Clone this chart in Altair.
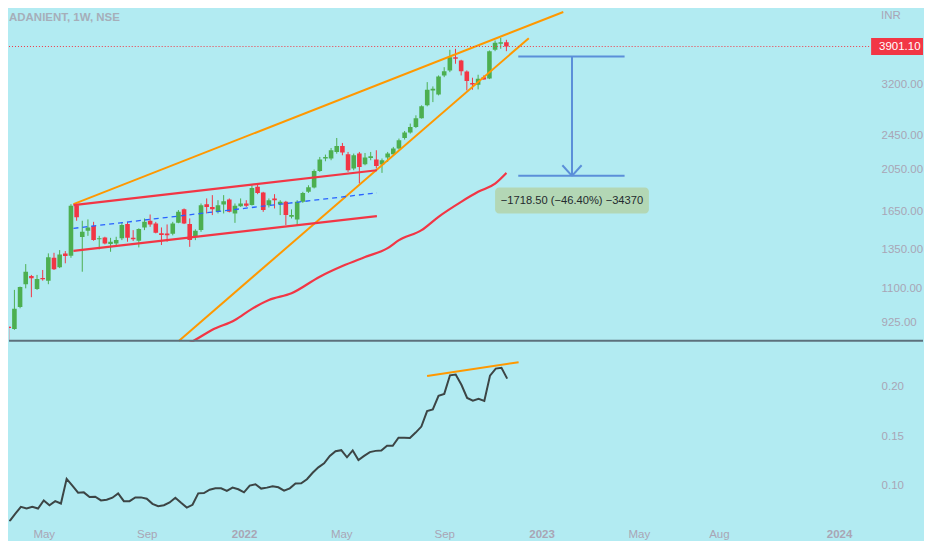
import altair as alt
import pandas as pd

FONT = "Liberation Sans"
BG = "#b2ebf2"
UP = "#4caf50"
DOWN = "#f23645"
ORANGE = "#ff9800"
BLUE = "#2962ff"
MEAS = "#5b8fd9"
AXC = "#a9a5b5"
SEP = "#5c707c"

# ---------------- weekly candles (bar index 0 = week of 15 Mar 2021) ----------------
week = list(range(89))
open_ = [903, 892, 1001, 1127, 1176, 1099, 1164, 1148, 1294, 1231,
         1324, 1308, 1703, 1442, 1490, 1527, 1425, 1439, 1390, 1395,
         1432, 1543, 1436, 1414, 1516, 1570, 1548, 1470, 1468, 1466,
         1553, 1668, 1543, 1444, 1495, 1712, 1688, 1645, 1710, 1754,
         1631, 1694, 1718, 1705, 1874, 1820, 1703, 1764, 1712, 1733,
         1603, 1581, 1733, 1826, 1868, 2037, 2173, 2173, 2249, 2320,
         2222, 2062, 2230, 2109, 2180, 2162, 2106, 2184, 2222, 2290,
         2419, 2488, 2562, 2681, 2869, 3102, 3038, 3354, 3442, 3690,
         3627, 3425, 3222, 3195, 3324, 3300, 3835, 3956, 3989]
high = [905, 1094, 1113, 1252, 1183, 1183, 1214, 1324, 1328, 1347,
        1340, 1712, 1705, 1570, 1581, 1561, 1451, 1444, 1436, 1444,
        1557, 1561, 1495, 1509, 1589, 1622, 1561, 1516, 1540, 1561,
        1660, 1674, 1589, 1501, 1718, 1764, 1795, 1748, 1795, 1764,
        1718, 1764, 1748, 1890, 1897, 1826, 1764, 1804, 1748, 1742,
        1666, 1748, 1826, 1890, 2052, 2191, 2218, 2296, 2419, 2357,
        2249, 2230, 2249, 2237, 2249, 2269, 2173, 2249, 2309, 2412,
        2509, 2608, 2723, 2869, 3239, 3167, 3354, 3502, 3835, 3855,
        3640, 3443, 3314, 3366, 3354, 3821, 4025, 4082, 4040]
low = [843, 888, 994, 1103, 1053, 1094, 1148, 1127, 1214, 1226,
       1257, 1294, 1570, 1203, 1451, 1414, 1352, 1388, 1335, 1383,
       1419, 1407, 1412, 1366, 1495, 1521, 1470, 1383, 1407, 1455,
       1550, 1543, 1370, 1419, 1482, 1631, 1617, 1631, 1631, 1640,
       1553, 1688, 1688, 1700, 1804, 1645, 1683, 1674, 1617, 1535,
       1589, 1535, 1724, 1816, 1859, 2026, 2142, 2154, 2229, 2210,
       2026, 2044, 1907, 2098, 2154, 2062, 2016, 2135, 2210, 2277,
       2399, 2475, 2548, 2677, 2854, 2918, 3022, 3324, 3412, 3565,
       3354, 3102, 3113, 3118, 3280, 3290, 3807, 3855, 3807]
close = [897, 991, 1111, 1203, 1162, 1158, 1156, 1297, 1218, 1317,
         1306, 1697, 1598, 1482, 1516, 1419, 1432, 1395, 1407, 1419,
         1535, 1436, 1425, 1503, 1561, 1540, 1474, 1457, 1455, 1548,
         1645, 1548, 1419, 1490, 1703, 1688, 1668, 1703, 1739, 1645,
         1697, 1718, 1697, 1864, 1816, 1660, 1748, 1748, 1733, 1617,
         1617, 1733, 1816, 1871, 2037, 2162, 2191, 2269, 2320, 2242,
         2044, 2210, 2080, 2184, 2199, 2091, 2154, 2230, 2290, 2390,
         2488, 2562, 2681, 2854, 3113, 3130, 3336, 3430, 3690, 3659,
         3430, 3256, 3200, 3297, 3285, 3807, 3976, 3989, 3901.10]
last_price = [3901.10]

# moving average (red curve)
ma_week = [31, 33, 36, 40, 43, 46, 50, 55, 59, 63, 67, 69, 73, 76, 80, 83, 86, 88]
ma_val = [817, 843, 888, 935, 991, 1038, 1075, 1172, 1239, 1299, 1361, 1419,
          1495, 1603, 1733, 1826, 1907, 2016]

# drawn trend lines
trend_kind = ["wedge", "wedge", "channel", "channel", "mid"]
trend_w1 = [11.44, 30.07, 11.44, 11.44, 11.44]
trend_p1 = [1712, 838, 1703, 1342, 1509]
trend_w2 = [98.06, 91.96, 65.10, 65.10, 65.10]
trend_p2 = [4672, 4074, 2044, 1608, 1816]

# price-range measurement tool
meas_w1 = [90.1, 90.1, 99.6, 97.9, 101.3]
meas_p1 = [3703.7, 1985.2, 3703.7, 2098, 2098]
meas_w2 = [108.9, 108.9, 99.6, 99.6, 99.6]
meas_p2 = [3703.7, 1985.2, 1985.2, 1985.2, 1985.2]
box_w = [86.0, 113.2]
box_p = [1868, 1631]
box_text_w = [99.6]
box_text_p = [1745]
box_text = ["\u22121718.50 (\u221246.40%) \u221234370"]

# lower indicator pane
ind_week = list(range(1, 89))
ind_val = [0.0637, 0.0713, 0.0784, 0.0767, 0.0784, 0.0767, 0.0849, 0.0801, 0.0842, 0.0818,
           0.1068, 0.0999, 0.0928, 0.0931, 0.0883, 0.0887, 0.0849, 0.0856, 0.0877, 0.0921,
           0.0842, 0.0842, 0.0880, 0.0880, 0.0866, 0.0815, 0.0791, 0.0801, 0.0829, 0.0877,
           0.0825, 0.0777, 0.0805, 0.0921, 0.0924, 0.0958, 0.0972, 0.0972, 0.0945, 0.0979,
           0.0962, 0.0931, 0.0999, 0.1013, 0.0969, 0.0979, 0.0993, 0.0982, 0.0948, 0.0972,
           0.1020, 0.1023, 0.1064, 0.1129, 0.1184, 0.1225, 0.1300, 0.1348, 0.1358, 0.1286,
           0.1355, 0.1259, 0.1300, 0.1338, 0.1351, 0.1355, 0.1402, 0.1402, 0.1484, 0.1484,
           0.1481, 0.1536, 0.1597, 0.1754, 0.1771, 0.1908, 0.1928, 0.2116, 0.2123, 0.2020,
           0.1887, 0.1860, 0.1877, 0.1857, 0.2113, 0.2184, 0.2191, 0.2082]
ind_line_w = [74.0, 90.0]
ind_line_v = [0.2109, 0.2249]

# axes
price_ticks = [925, 1100, 1350, 1650, 2050, 2450, 3200]
ind_ticks = [0.10, 0.15, 0.20]
x_tick_week = [7, 25, 42, 59, 77, 94, 111, 125, 146]
x_tick_text = ["May", "Sep", "2022", "May", "Sep", "2023", "May", "Aug", "2024"]
title_text = ["ADANIENT, 1W, NSE"]
currency = ["INR"]

# ---------------- layout ----------------
W = 862
H_TOP = 334
H_BOT = 179
XDOM = [0.9243, 151.26]
PDOM = [834.0, 4755.9]
IDOM = [0.06364, 0.24444]

x_scale = alt.Scale(domain=XDOM, nice=False, zero=False)
p_scale = alt.Scale(type="log", domain=PDOM, nice=False, zero=False)
i_scale = alt.Scale(domain=IDOM, nice=False, zero=False)

p_axis = alt.Axis(orient="right", values=price_ticks, format=".2f", ticks=False,
                  domain=False, grid=False, labelPadding=12, labelFont=FONT,
                  labelFontSize=11.5, labelColor=AXC, title=None)
i_axis = alt.Axis(orient="right", values=ind_ticks, format=".2f", ticks=False,
                  domain=False, grid=False, labelPadding=12, labelFont=FONT,
                  labelFontSize=11.5, labelColor=AXC, title=None)
label_expr = " : ".join(f"datum.value == {w} ? '{t}'" for w, t in zip(x_tick_week, x_tick_text)) + " : ''"
year_test = " || ".join(f"datum.value == {w}" for w, t in zip(x_tick_week, x_tick_text) if t.isdigit())
x_axis = alt.Axis(values=x_tick_week, labelExpr=label_expr, ticks=False, tickSize=0,
                  domain=False, grid=False, labelPadding=7, labelFont=FONT,
                  labelFontSize=11.5, labelColor=AXC, labelFlush=False, labelOverlap=False,
                  labelFontWeight={"condition": {"test": year_test, "value": "bold"}, "value": "normal"},
                  title=None)


def tx(f):
    return alt.X(f, type="quantitative", scale=x_scale, axis=None)


def ty(f):
    return alt.Y(f, type="quantitative", scale=p_scale, axis=p_axis)


candles = pd.DataFrame({"w": week, "o": open_, "h": high, "l": low, "c": close})
candles["dir"] = ["up" if c >= o else "down" for o, c in zip(open_, close)]
col = alt.Color("dir:N", scale=alt.Scale(domain=["up", "down"], range=[UP, DOWN]), legend=None)

wicks = alt.Chart(candles).mark_rule(strokeWidth=1, clip=True).encode(
    x=tx("w"), y=ty("l"), y2=alt.Y2("h"), color=col)
bodies = alt.Chart(candles).mark_bar(size=4.6, clip=True).encode(
    x=tx("w"), y=ty("o"), y2=alt.Y2("c"), color=col)

trends = pd.DataFrame({"k": trend_kind, "w1": trend_w1, "p1": trend_p1, "w2": trend_w2, "p2": trend_p2})


def seg(df, color, width, dash=None, flt=None):
    kw = dict(color=color, strokeWidth=width, clip=True)
    if dash:
        kw["strokeDash"] = dash
    ch = alt.Chart(df)
    if flt:
        ch = ch.transform_filter(flt)
    return ch.mark_rule(**kw).encode(x=tx("w1"), x2=alt.X2("w2"), y=ty("p1"), y2=alt.Y2("p2"))


wedge = seg(trends, ORANGE, 2, flt="datum.k == 'wedge'")
channel = seg(trends, DOWN, 2.2, flt="datum.k == 'channel'")
mid = seg(trends, BLUE, 1.3, dash=[5, 4], flt="datum.k == 'mid'")

ma = alt.Chart(pd.DataFrame({"w": ma_week, "v": ma_val})).mark_line(
    color=DOWN, strokeWidth=2.2, clip=True, interpolate="monotone").encode(x=tx("w"), y=ty("v"))

meas = seg(pd.DataFrame({"w1": meas_w1, "p1": meas_p1, "w2": meas_w2, "p2": meas_p2}), MEAS, 2)

box = alt.Chart(pd.DataFrame({"w1": [box_w[0]], "w2": [box_w[1]], "p1": [box_p[0]], "p2": [box_p[1]]})).mark_rect(
    color="#b3d7b5", cornerRadius=4).encode(x=tx("w1"), x2=alt.X2("w2"), y=ty("p1"), y2=alt.Y2("p2"))
box_lbl = alt.Chart(pd.DataFrame({"w": box_text_w, "p": box_text_p, "t": box_text})).mark_text(
    font=FONT, fontSize=11.2, color="#232a2e", align="center", baseline="middle").encode(
    x=tx("w"), y=ty("p"), text="t:N")

last_df = pd.DataFrame({"p": last_price})
price_line = alt.Chart(last_df).mark_rule(color=DOWN, strokeWidth=1, strokeDash=[1, 2]).encode(
    y=ty("p"), x=alt.value(0), x2=alt.value(W))
price_box = alt.Chart(last_df).mark_rect(color=DOWN, yOffset=-8.5, y2Offset=8.5).encode(
    y=ty("p"), y2=alt.Y2("p"), x=alt.value(W + 2), x2=alt.value(W + 54))
price_txt = alt.Chart(last_df).mark_text(font=FONT, fontSize=11.5, color="white", align="left",
                                         baseline="middle").encode(
    y=ty("p"), x=alt.value(W + 10), text=alt.Text("p:Q", format=".2f"))

title = alt.Chart(pd.DataFrame({"t": title_text})).mark_text(
    font=FONT, fontSize=11.5, fontWeight="bold", color="#a6aeb9", align="left", baseline="middle").encode(
    text="t:N", x=alt.value(0), y=alt.value(9))
cur = alt.Chart(pd.DataFrame({"t": currency})).mark_text(
    font=FONT, fontSize=11.5, color=AXC, align="left", baseline="middle").encode(
    text="t:N", x=alt.value(W + 12), y=alt.value(7))
sep = alt.Chart(pd.DataFrame({"t": [0]})).mark_rule(color=SEP, strokeWidth=2).encode(
    x=alt.value(0), x2=alt.value(W + 54), y=alt.value(H_TOP - 1))

top = alt.layer(wicks, bodies, ma, wedge, channel, mid, meas, box, box_lbl,
                price_line, price_box, price_txt, title, cur, sep).properties(width=W, height=H_TOP)

ind_df = pd.DataFrame({"w": ind_week, "v": ind_val})
ind_line = alt.Chart(ind_df).mark_line(color="#3c4545", strokeWidth=2, clip=True).encode(
    x=alt.X("w", type="quantitative", scale=x_scale, axis=x_axis),
    y=alt.Y("v", type="quantitative", scale=i_scale, axis=i_axis))
ind_trend = alt.Chart(pd.DataFrame({"w1": [ind_line_w[0]], "w2": [ind_line_w[1]],
                                    "v1": [ind_line_v[0]], "v2": [ind_line_v[1]]})).mark_rule(
    color=ORANGE, strokeWidth=2, clip=True).encode(
    x=alt.X("w1", type="quantitative", scale=x_scale, axis=x_axis), x2=alt.X2("w2"),
    y=alt.Y("v1", type="quantitative", scale=i_scale, axis=i_axis), y2=alt.Y2("v2"))

bottom = alt.layer(ind_line, ind_trend).properties(width=W, height=H_BOT)

chart = alt.vconcat(top, bottom, spacing=1).properties(
    background=BG, padding=0).configure_view(stroke=None)

chart.save("out.html", embed_options={"renderer": "svg", "actions": False})
